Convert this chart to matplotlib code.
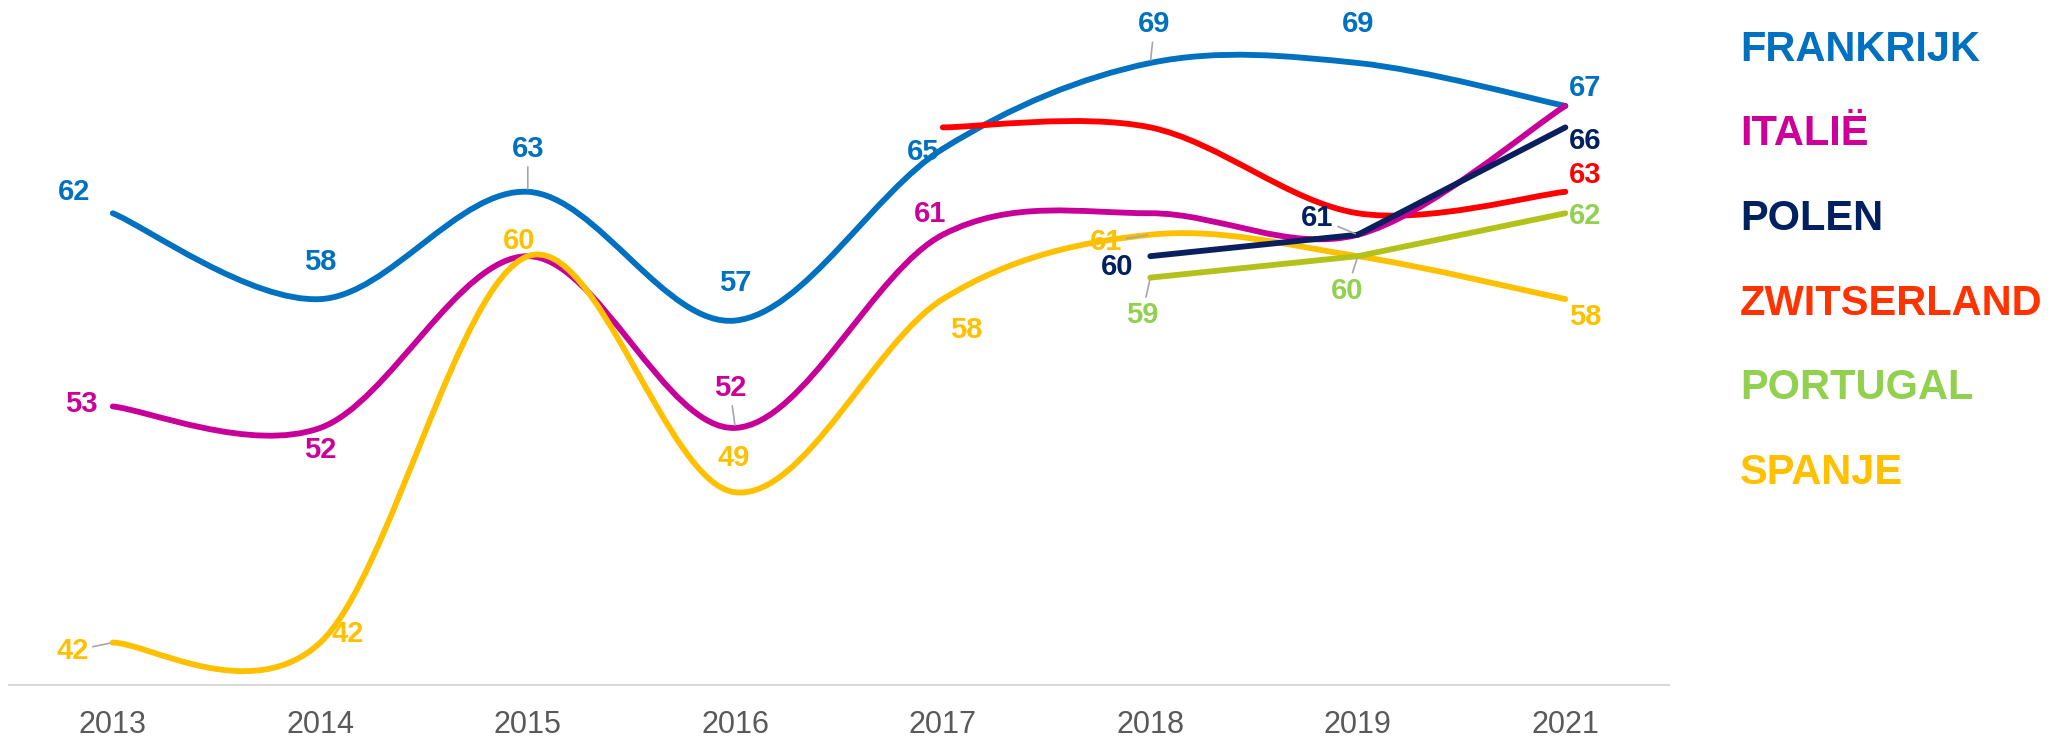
import matplotlib
matplotlib.use("Agg")
import matplotlib.pyplot as plt
from matplotlib import font_manager
from matplotlib.path import Path
from matplotlib.patches import PathPatch

# Data
years = ['2013', '2014', '2015', '2016', '2017', '2018', '2019', '2021']

frankrijk = [62, 58, 63, 57, 65, 69, 69, 67]
italie = [53, 52, 60, 52, 61, 62, 61, 67]
polen = [60, 61, 66]            # from 2018
zwitserland = [66, 66, 62, 63]  # from 2017
portugal = [59, 60, 62]         # from 2018
spanje = [42, 42, 60, 49, 58, 61, 60, 58]

names = ['FRANKRIJK', 'ITALIË', 'POLEN', 'ZWITSERLAND', 'PORTUGAL', 'SPANJE']

# Styling
line_col = {'FRANKRIJK': '#0070C0', 'ITALIË': '#C8009A', 'POLEN': '#0B1F5E',
            'ZWITSERLAND': '#FF0000', 'PORTUGAL': '#B3C21B', 'SPANJE': '#FFC000'}
lab_col = {'FRANKRIJK': '#0070C0', 'ITALIË': '#CC0099', 'POLEN': '#002060',
           'ZWITSERLAND': '#FF0000', 'PORTUGAL': '#92D050', 'SPANJE': '#FFC000'}
legend_col = {'FRANKRIJK': '#0070C0', 'ITALIË': '#CC0099', 'POLEN': '#002060',
              'ZWITSERLAND': '#FF3300', 'PORTUGAL': '#92D050', 'SPANJE': '#FFC000'}

series = {
    'FRANKRIJK': (0, frankrijk),
    'ITALIË': (0, italie),
    'POLEN': (5, polen),
    'ZWITSERLAND': (4, zwitserland),
    'PORTUGAL': (5, portugal),
    'SPANJE': (0, spanje),
}
smoothed = {'FRANKRIJK': True, 'ITALIË': True, 'POLEN': False,
            'ZWITSERLAND': True, 'PORTUGAL': False, 'SPANJE': True}

# label offsets in points: (index, dx, dy, leader line)
label_pos = {
    'FRANKRIJK': [(0, -28, 15, False), (1, 0, 27, False), (2, 0, 31, True), (3, 0, 27, False),
                  (4, -14, -2, False), (5, 3, 28, True), (6, 0, 28, False), (7, 14, 13, False)],
    'ITALIË': [(0, -23, 2, False), (1, 0, -16, False), (3, -4, 29, True), (4, -9, 15, False)],
    'POLEN': [(5, -24, -8, False), (6, -29, 12, True), (7, 14, -10, False)],
    'ZWITSERLAND': [(7, 14, 12, False)],
    'PORTUGAL': [(5, -6, -27, True), (6, -8, -25, True), (7, 14, -2, False)],
    'SPANJE': [(0, -29, -6, True), (1, 20, 6, False), (2, -6, 11, False), (3, -1, 25, False),
               (4, 17, -22, False), (5, -32, -5, True), (7, 14, -13, False)],
}

draw_order = ['FRANKRIJK', 'ZWITSERLAND', 'ITALIË', 'SPANJE', 'PORTUGAL', 'POLEN']

avail = {f.name for f in font_manager.fontManager.ttflist}
font = 'Liberation Sans' if 'Liberation Sans' in avail else 'DejaVu Sans'
plt.rcParams['font.family'] = [font, 'DejaVu Sans']


def smooth_path(xs, ys):
    # Excel-style smoothed line: cubic Bezier through every point
    pts = list(zip(xs, ys))
    n = len(pts)
    verts = [pts[0]]
    codes = [Path.MOVETO]
    for i in range(n - 1):
        p0 = pts[i - 1] if i > 0 else pts[i]
        p1 = pts[i]
        p2 = pts[i + 1]
        p3 = pts[i + 2] if i + 2 < n else pts[i + 1]
        c1 = (p1[0] + (p2[0] - p0[0]) / 6, p1[1] + (p2[1] - p0[1]) / 6)
        c2 = (p2[0] - (p3[0] - p1[0]) / 6, p2[1] - (p3[1] - p1[1]) / 6)
        verts += [c1, c2, p2]
        codes += [Path.CURVE4] * 3
    return Path(verts, codes)


fig = plt.figure(figsize=(20.52, 7.41), dpi=100)
ax = fig.add_axes([0.0044, 0.0749, 0.809, 0.927])

for z, name in enumerate(draw_order):
    start, vals = series[name]
    xs = list(range(start, start + len(vals)))
    if smoothed[name]:
        patch = PathPatch(smooth_path(xs, vals), facecolor='none', edgecolor=line_col[name],
                          lw=4.2, capstyle='round', joinstyle='round', zorder=2 + z)
        ax.add_patch(patch)
    else:
        ax.plot(xs, vals, color=line_col[name], lw=4.2, solid_capstyle='round',
                solid_joinstyle='round', zorder=2 + z)

for name in names:
    start, vals = series[name]
    for idx, dx, dy, leader in label_pos[name]:
        v = vals[idx - start]
        kw = {}
        if leader:
            kw['arrowprops'] = dict(arrowstyle='-', color='#A6A6A6', lw=1.2,
                                    shrinkA=1, shrinkB=2)
        ax.annotate(str(v), xy=(idx, v), xytext=(dx, dy), textcoords='offset points',
                    ha='center', va='center', fontsize=21, fontweight='bold',
                    color=lab_col[name], zorder=10, **kw)

ax.set_xlim(-0.5, len(years) - 0.5)
ax.set_ylim(40, 72)
ax.set_xticks(range(len(years)))
ax.set_xticklabels(years)
ax.set_yticks([])
ax.tick_params(axis='x', length=0, pad=18, labelsize=22, labelcolor='#595959')
for s in ['top', 'left', 'right']:
    ax.spines[s].set_visible(False)
ax.spines['bottom'].set_color('#D9D9D9')
ax.spines['bottom'].set_linewidth(1.5)

# legend as coloured text
for k, name in enumerate(names):
    fig.text(0.848, 0.933 - k * 0.1142, name, color=legend_col[name], fontsize=30,
             fontweight='bold', ha='left', va='center')

fig.savefig('out.png', dpi=100)
